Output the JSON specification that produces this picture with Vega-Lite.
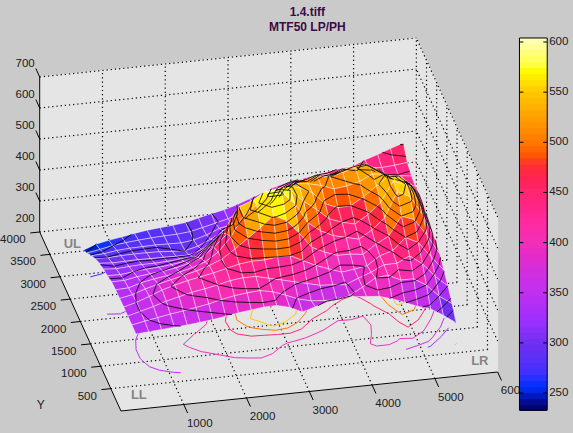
{"$schema":"https://vega.github.io/schema/vega-lite/v6.json","width":573,"height":433,"autosize":{"type":"fit","contains":"padding"},"padding":0,"background":"#cacaca","view":{"stroke":null},
"config":{"font":"Liberation Sans"},
"datasets":{"nodes":[
{"k":2513,"X":5560,"Y":3285,"z":474},{"k":2413,"X":5356,"Y":3285,"z":460},{"k":2313,"X":5152,"Y":3285,"z":445},{"k":2213,"X":4948,"Y":3285,"z":432},{"k":2113,"X":4744,"Y":3285,"z":415},{"k":2013,"X":4540,"Y":3285,"z":412},{"k":1913,"X":4336,"Y":3285,"z":405},{"k":1813,"X":4132,"Y":3285,"z":398},{"k":1713,"X":3928,"Y":3285,"z":392},{"k":1613,"X":3724,"Y":3285,"z":385},{"k":1513,"X":3520,"Y":3285,"z":375},{"k":1413,"X":3316,"Y":3285,"z":360},{"k":1313,"X":3112,"Y":3285,"z":345},{"k":1213,"X":2908,"Y":3285,"z":330},{"k":1113,"X":2704,"Y":3285,"z":318},{"k":1013,"X":2500,"Y":3285,"z":310},{"k":913,"X":2296,"Y":3285,"z":300},{"k":813,"X":2092,"Y":3285,"z":290},{"k":713,"X":1888,"Y":3285,"z":285},{"k":613,"X":1684,"Y":3285,"z":282},{"k":513,"X":1480,"Y":3285,"z":278},{"k":413,"X":1276,"Y":3285,"z":272},{"k":313,"X":1072,"Y":3285,"z":265},{"k":213,"X":868,"Y":3285,"z":258},{"k":113,"X":664,"Y":3285,"z":250},{"k":13,"X":460,"Y":3285,"z":235},
{"k":2512,"X":5560,"Y":3085,"z":440},{"k":2412,"X":5356,"Y":3085,"z":435},{"k":2312,"X":5152,"Y":3085,"z":432},{"k":2212,"X":4948,"Y":3085,"z":435},{"k":2112,"X":4744,"Y":3085,"z":430},{"k":2012,"X":4540,"Y":3085,"z":440},{"k":1912,"X":4336,"Y":3085,"z":425},{"k":1812,"X":4132,"Y":3085,"z":430},{"k":1712,"X":3928,"Y":3085,"z":415},{"k":1612,"X":3724,"Y":3085,"z":415},{"k":1512,"X":3520,"Y":3085,"z":400},{"k":1412,"X":3316,"Y":3085,"z":370},{"k":1312,"X":3112,"Y":3085,"z":355},{"k":1212,"X":2908,"Y":3085,"z":335},{"k":1112,"X":2704,"Y":3085,"z":318},{"k":1012,"X":2500,"Y":3085,"z":308},{"k":912,"X":2296,"Y":3085,"z":298},{"k":812,"X":2092,"Y":3085,"z":289},{"k":712,"X":1888,"Y":3085,"z":285},{"k":612,"X":1684,"Y":3085,"z":284},{"k":512,"X":1480,"Y":3085,"z":282},{"k":412,"X":1276,"Y":3085,"z":279},{"k":312,"X":1072,"Y":3085,"z":275},{"k":212,"X":868,"Y":3085,"z":270},{"k":112,"X":664,"Y":3085,"z":262},{"k":12,"X":460,"Y":3085,"z":255},
{"k":2511,"X":5560,"Y":2885,"z":425},{"k":2411,"X":5356,"Y":2885,"z":430},{"k":2311,"X":5152,"Y":2885,"z":430},{"k":2211,"X":4948,"Y":2885,"z":455},{"k":2111,"X":4744,"Y":2885,"z":465},{"k":2011,"X":4540,"Y":2885,"z":470},{"k":1911,"X":4336,"Y":2885,"z":455},{"k":1811,"X":4132,"Y":2885,"z":460},{"k":1711,"X":3928,"Y":2885,"z":440},{"k":1611,"X":3724,"Y":2885,"z":445},{"k":1511,"X":3520,"Y":2885,"z":425},{"k":1411,"X":3316,"Y":2885,"z":390},{"k":1311,"X":3112,"Y":2885,"z":370},{"k":1211,"X":2908,"Y":2885,"z":350},{"k":1111,"X":2704,"Y":2885,"z":328},{"k":1011,"X":2500,"Y":2885,"z":320},{"k":911,"X":2296,"Y":2885,"z":303},{"k":811,"X":2092,"Y":2885,"z":291},{"k":711,"X":1888,"Y":2885,"z":286},{"k":611,"X":1684,"Y":2885,"z":287},{"k":511,"X":1480,"Y":2885,"z":288},{"k":411,"X":1276,"Y":2885,"z":287},{"k":311,"X":1072,"Y":2885,"z":286},{"k":211,"X":868,"Y":2885,"z":283},{"k":111,"X":664,"Y":2885,"z":277},{"k":11,"X":460,"Y":2885,"z":275},
{"k":2510,"X":5560,"Y":2685,"z":420},{"k":2410,"X":5356,"Y":2685,"z":440},{"k":2310,"X":5152,"Y":2685,"z":455},{"k":2210,"X":4948,"Y":2685,"z":490},{"k":2110,"X":4744,"Y":2685,"z":510},{"k":2010,"X":4540,"Y":2685,"z":505},{"k":1910,"X":4336,"Y":2685,"z":495},{"k":1810,"X":4132,"Y":2685,"z":480},{"k":1710,"X":3928,"Y":2685,"z":470},{"k":1610,"X":3724,"Y":2685,"z":480},{"k":1510,"X":3520,"Y":2685,"z":450},{"k":1410,"X":3316,"Y":2685,"z":420},{"k":1310,"X":3112,"Y":2685,"z":395},{"k":1210,"X":2908,"Y":2685,"z":380},{"k":1110,"X":2704,"Y":2685,"z":350},{"k":1010,"X":2500,"Y":2685,"z":340},{"k":910,"X":2296,"Y":2685,"z":318},{"k":810,"X":2092,"Y":2685,"z":300},{"k":710,"X":1888,"Y":2685,"z":290},{"k":610,"X":1684,"Y":2685,"z":292},{"k":510,"X":1480,"Y":2685,"z":295},{"k":410,"X":1276,"Y":2685,"z":296},{"k":310,"X":1072,"Y":2685,"z":296},{"k":210,"X":868,"Y":2685,"z":295},{"k":110,"X":664,"Y":2685,"z":293},{"k":10,"X":460,"Y":2685,"z":295},
{"k":2509,"X":5560,"Y":2485,"z":425},{"k":2409,"X":5356,"Y":2485,"z":470},{"k":2309,"X":5152,"Y":2485,"z":480},{"k":2209,"X":4948,"Y":2485,"z":505},{"k":2109,"X":4744,"Y":2485,"z":535},{"k":2009,"X":4540,"Y":2485,"z":530},{"k":1909,"X":4336,"Y":2485,"z":520},{"k":1809,"X":4132,"Y":2485,"z":510},{"k":1709,"X":3928,"Y":2485,"z":515},{"k":1609,"X":3724,"Y":2485,"z":510},{"k":1509,"X":3520,"Y":2485,"z":495},{"k":1409,"X":3316,"Y":2485,"z":470},{"k":1309,"X":3112,"Y":2485,"z":440},{"k":1209,"X":2908,"Y":2485,"z":420},{"k":1109,"X":2704,"Y":2485,"z":390},{"k":1009,"X":2500,"Y":2485,"z":375},{"k":909,"X":2296,"Y":2485,"z":345},{"k":809,"X":2092,"Y":2485,"z":318},{"k":709,"X":1888,"Y":2485,"z":305},{"k":609,"X":1684,"Y":2485,"z":305},{"k":509,"X":1480,"Y":2485,"z":306},{"k":409,"X":1276,"Y":2485,"z":306},{"k":309,"X":1072,"Y":2485,"z":307},{"k":209,"X":868,"Y":2485,"z":306},{"k":109,"X":664,"Y":2485,"z":305},{"k":9,"X":460,"Y":2485,"z":308},
{"k":2508,"X":5560,"Y":2285,"z":420},{"k":2408,"X":5356,"Y":2285,"z":490},{"k":2308,"X":5152,"Y":2285,"z":510},{"k":2208,"X":4948,"Y":2285,"z":530},{"k":2108,"X":4744,"Y":2285,"z":535},{"k":2008,"X":4540,"Y":2285,"z":515},{"k":1908,"X":4336,"Y":2285,"z":505},{"k":1808,"X":4132,"Y":2285,"z":500},{"k":1708,"X":3928,"Y":2285,"z":515},{"k":1608,"X":3724,"Y":2285,"z":525},{"k":1508,"X":3520,"Y":2285,"z":530},{"k":1408,"X":3316,"Y":2285,"z":520},{"k":1308,"X":3112,"Y":2285,"z":490},{"k":1208,"X":2908,"Y":2285,"z":470},{"k":1108,"X":2704,"Y":2285,"z":440},{"k":1008,"X":2500,"Y":2285,"z":425},{"k":908,"X":2296,"Y":2285,"z":385},{"k":808,"X":2092,"Y":2285,"z":350},{"k":708,"X":1888,"Y":2285,"z":328},{"k":608,"X":1684,"Y":2285,"z":325},{"k":508,"X":1480,"Y":2285,"z":322},{"k":408,"X":1276,"Y":2285,"z":320},{"k":308,"X":1072,"Y":2285,"z":320},{"k":208,"X":868,"Y":2285,"z":318},{"k":108,"X":664,"Y":2285,"z":315},{"k":8,"X":460,"Y":2285,"z":318},
{"k":2507,"X":5560,"Y":2085,"z":405},{"k":2407,"X":5356,"Y":2085,"z":495},{"k":2307,"X":5152,"Y":2085,"z":545},{"k":2207,"X":4948,"Y":2085,"z":555},{"k":2107,"X":4744,"Y":2085,"z":525},{"k":2007,"X":4540,"Y":2085,"z":495},{"k":1907,"X":4336,"Y":2085,"z":470},{"k":1807,"X":4132,"Y":2085,"z":468},{"k":1707,"X":3928,"Y":2085,"z":485},{"k":1607,"X":3724,"Y":2085,"z":525},{"k":1507,"X":3520,"Y":2085,"z":545},{"k":1407,"X":3316,"Y":2085,"z":555},{"k":1307,"X":3112,"Y":2085,"z":540},{"k":1207,"X":2908,"Y":2085,"z":530},{"k":1107,"X":2704,"Y":2085,"z":510},{"k":1007,"X":2500,"Y":2085,"z":490},{"k":907,"X":2296,"Y":2085,"z":425},{"k":807,"X":2092,"Y":2085,"z":385},{"k":707,"X":1888,"Y":2085,"z":355},{"k":607,"X":1684,"Y":2085,"z":346},{"k":507,"X":1480,"Y":2085,"z":340},{"k":407,"X":1276,"Y":2085,"z":336},{"k":307,"X":1072,"Y":2085,"z":334},{"k":207,"X":868,"Y":2085,"z":330},{"k":107,"X":664,"Y":2085,"z":325},{"k":7,"X":460,"Y":2085,"z":326},
{"k":2506,"X":5560,"Y":1885,"z":398},{"k":2406,"X":5356,"Y":1885,"z":490},{"k":2306,"X":5152,"Y":1885,"z":550},{"k":2206,"X":4948,"Y":1885,"z":565},{"k":2106,"X":4744,"Y":1885,"z":500},{"k":2006,"X":4540,"Y":1885,"z":465},{"k":1906,"X":4336,"Y":1885,"z":440},{"k":1806,"X":4132,"Y":1885,"z":450},{"k":1706,"X":3928,"Y":1885,"z":465},{"k":1606,"X":3724,"Y":1885,"z":500},{"k":1506,"X":3520,"Y":1885,"z":530},{"k":1406,"X":3316,"Y":1885,"z":570},{"k":1306,"X":3112,"Y":1885,"z":580},{"k":1206,"X":2908,"Y":1885,"z":575},{"k":1106,"X":2704,"Y":1885,"z":550},{"k":1006,"X":2500,"Y":1885,"z":535},{"k":906,"X":2296,"Y":1885,"z":450},{"k":806,"X":2092,"Y":1885,"z":412},{"k":706,"X":1888,"Y":1885,"z":382},{"k":606,"X":1684,"Y":1885,"z":368},{"k":506,"X":1480,"Y":1885,"z":358},{"k":406,"X":1276,"Y":1885,"z":352},{"k":306,"X":1072,"Y":1885,"z":348},{"k":206,"X":868,"Y":1885,"z":343},{"k":106,"X":664,"Y":1885,"z":335},{"k":6,"X":460,"Y":1885,"z":335},
{"k":2505,"X":5560,"Y":1685,"z":390},{"k":2405,"X":5356,"Y":1685,"z":475},{"k":2305,"X":5152,"Y":1685,"z":540},{"k":2205,"X":4948,"Y":1685,"z":560},{"k":2105,"X":4744,"Y":1685,"z":480},{"k":2005,"X":4540,"Y":1685,"z":445},{"k":1905,"X":4336,"Y":1685,"z":420},{"k":1805,"X":4132,"Y":1685,"z":430},{"k":1705,"X":3928,"Y":1685,"z":440},{"k":1605,"X":3724,"Y":1685,"z":460},{"k":1505,"X":3520,"Y":1685,"z":490},{"k":1405,"X":3316,"Y":1685,"z":555},{"k":1305,"X":3112,"Y":1685,"z":595},{"k":1205,"X":2908,"Y":1685,"z":595},{"k":1105,"X":2704,"Y":1685,"z":565},{"k":1005,"X":2500,"Y":1685,"z":535},{"k":905,"X":2296,"Y":1685,"z":470},{"k":805,"X":2092,"Y":1685,"z":425},{"k":705,"X":1888,"Y":1685,"z":398},{"k":605,"X":1684,"Y":1685,"z":384},{"k":505,"X":1480,"Y":1685,"z":374},{"k":405,"X":1276,"Y":1685,"z":366},{"k":305,"X":1072,"Y":1685,"z":360},{"k":205,"X":868,"Y":1685,"z":352},{"k":105,"X":664,"Y":1685,"z":340},{"k":5,"X":460,"Y":1685,"z":338},
{"k":2504,"X":5560,"Y":1485,"z":375},{"k":2404,"X":5356,"Y":1485,"z":440},{"k":2304,"X":5152,"Y":1485,"z":495},{"k":2204,"X":4948,"Y":1485,"z":510},{"k":2104,"X":4744,"Y":1485,"z":450},{"k":2004,"X":4540,"Y":1485,"z":428},{"k":1904,"X":4336,"Y":1485,"z":400},{"k":1804,"X":4132,"Y":1485,"z":405},{"k":1704,"X":3928,"Y":1485,"z":405},{"k":1604,"X":3724,"Y":1485,"z":420},{"k":1504,"X":3520,"Y":1485,"z":440},{"k":1404,"X":3316,"Y":1485,"z":490},{"k":1304,"X":3112,"Y":1485,"z":535},{"k":1204,"X":2908,"Y":1485,"z":555},{"k":1104,"X":2704,"Y":1485,"z":520},{"k":1004,"X":2500,"Y":1485,"z":490},{"k":904,"X":2296,"Y":1485,"z":460},{"k":804,"X":2092,"Y":1485,"z":432},{"k":704,"X":1888,"Y":1485,"z":415},{"k":604,"X":1684,"Y":1485,"z":402},{"k":504,"X":1480,"Y":1485,"z":392},{"k":404,"X":1276,"Y":1485,"z":382},{"k":304,"X":1072,"Y":1485,"z":372},{"k":204,"X":868,"Y":1485,"z":361},{"k":104,"X":664,"Y":1485,"z":347},{"k":4,"X":460,"Y":1485,"z":339},
{"k":2503,"X":5560,"Y":1285,"z":352},{"k":2403,"X":5356,"Y":1285,"z":400},{"k":2303,"X":5152,"Y":1285,"z":450},{"k":2203,"X":4948,"Y":1285,"z":470},{"k":2103,"X":4744,"Y":1285,"z":432},{"k":2003,"X":4540,"Y":1285,"z":420},{"k":1903,"X":4336,"Y":1285,"z":392},{"k":1803,"X":4132,"Y":1285,"z":385},{"k":1703,"X":3928,"Y":1285,"z":380},{"k":1603,"X":3724,"Y":1285,"z":395},{"k":1503,"X":3520,"Y":1285,"z":410},{"k":1403,"X":3316,"Y":1285,"z":430},{"k":1303,"X":3112,"Y":1285,"z":450},{"k":1203,"X":2908,"Y":1285,"z":450},{"k":1103,"X":2704,"Y":1285,"z":445},{"k":1003,"X":2500,"Y":1285,"z":445},{"k":903,"X":2296,"Y":1285,"z":440},{"k":803,"X":2092,"Y":1285,"z":430},{"k":703,"X":1888,"Y":1285,"z":420},{"k":603,"X":1684,"Y":1285,"z":412},{"k":503,"X":1480,"Y":1285,"z":404},{"k":403,"X":1276,"Y":1285,"z":394},{"k":303,"X":1072,"Y":1285,"z":382},{"k":203,"X":868,"Y":1285,"z":366},{"k":103,"X":664,"Y":1285,"z":351},{"k":3,"X":460,"Y":1285,"z":340},
{"k":2502,"X":5560,"Y":1085,"z":330},{"k":2402,"X":5356,"Y":1085,"z":365},{"k":2302,"X":5152,"Y":1085,"z":410},{"k":2202,"X":4948,"Y":1085,"z":440},{"k":2102,"X":4744,"Y":1085,"z":420},{"k":2002,"X":4540,"Y":1085,"z":420},{"k":1902,"X":4336,"Y":1085,"z":400},{"k":1802,"X":4132,"Y":1085,"z":385},{"k":1702,"X":3928,"Y":1085,"z":368},{"k":1602,"X":3724,"Y":1085,"z":372},{"k":1502,"X":3520,"Y":1085,"z":375},{"k":1402,"X":3316,"Y":1085,"z":385},{"k":1302,"X":3112,"Y":1085,"z":395},{"k":1202,"X":2908,"Y":1085,"z":405},{"k":1102,"X":2704,"Y":1085,"z":415},{"k":1002,"X":2500,"Y":1085,"z":425},{"k":902,"X":2296,"Y":1085,"z":425},{"k":802,"X":2092,"Y":1085,"z":420},{"k":702,"X":1888,"Y":1085,"z":410},{"k":602,"X":1684,"Y":1085,"z":402},{"k":502,"X":1480,"Y":1085,"z":395},{"k":402,"X":1276,"Y":1085,"z":385},{"k":302,"X":1072,"Y":1085,"z":375},{"k":202,"X":868,"Y":1085,"z":362},{"k":102,"X":664,"Y":1085,"z":351},{"k":2,"X":460,"Y":1085,"z":340},
{"k":2501,"X":5560,"Y":885,"z":302},{"k":2401,"X":5356,"Y":885,"z":330},{"k":2301,"X":5152,"Y":885,"z":370},{"k":2201,"X":4948,"Y":885,"z":395},{"k":2101,"X":4744,"Y":885,"z":395},{"k":2001,"X":4540,"Y":885,"z":415},{"k":1901,"X":4336,"Y":885,"z":410},{"k":1801,"X":4132,"Y":885,"z":385},{"k":1701,"X":3928,"Y":885,"z":362},{"k":1601,"X":3724,"Y":885,"z":352},{"k":1501,"X":3520,"Y":885,"z":355},{"k":1401,"X":3316,"Y":885,"z":358},{"k":1301,"X":3112,"Y":885,"z":368},{"k":1201,"X":2908,"Y":885,"z":385},{"k":1101,"X":2704,"Y":885,"z":400},{"k":1001,"X":2500,"Y":885,"z":408},{"k":901,"X":2296,"Y":885,"z":405},{"k":801,"X":2092,"Y":885,"z":400},{"k":701,"X":1888,"Y":885,"z":392},{"k":601,"X":1684,"Y":885,"z":382},{"k":501,"X":1480,"Y":885,"z":375},{"k":401,"X":1276,"Y":885,"z":368},{"k":301,"X":1072,"Y":885,"z":362},{"k":201,"X":868,"Y":885,"z":355},{"k":101,"X":664,"Y":885,"z":348},{"k":1,"X":460,"Y":885,"z":340},
{"k":2500,"X":5560,"Y":685,"z":269},{"k":2400,"X":5356,"Y":685,"z":298},{"k":2300,"X":5152,"Y":685,"z":323},{"k":2200,"X":4948,"Y":685,"z":335},{"k":2100,"X":4744,"Y":685,"z":352},{"k":2000,"X":4540,"Y":685,"z":368},{"k":1900,"X":4336,"Y":685,"z":380},{"k":1800,"X":4132,"Y":685,"z":384},{"k":1700,"X":3928,"Y":685,"z":388},{"k":1600,"X":3724,"Y":685,"z":388},{"k":1500,"X":3520,"Y":685,"z":380},{"k":1400,"X":3316,"Y":685,"z":368},{"k":1300,"X":3112,"Y":685,"z":355},{"k":1200,"X":2908,"Y":685,"z":375},{"k":1100,"X":2704,"Y":685,"z":385},{"k":1000,"X":2500,"Y":685,"z":384},{"k":900,"X":2296,"Y":685,"z":379},{"k":800,"X":2092,"Y":685,"z":374},{"k":700,"X":1888,"Y":685,"z":367},{"k":600,"X":1684,"Y":685,"z":361},{"k":500,"X":1480,"Y":685,"z":356},{"k":400,"X":1276,"Y":685,"z":352},{"k":300,"X":1072,"Y":685,"z":349},{"k":200,"X":868,"Y":685,"z":346},{"k":100,"X":664,"Y":685,"z":343},{"k":0,"X":460,"Y":685,"z":340}
]},
"encoding":{"x":{"field":"sx","type":"quantitative","scale":{"domain":[0,573],"nice":false,"zero":false},"axis":null},"y":{"field":"sy","type":"quantitative","scale":{"domain":[433,0],"nice":false,"zero":false},"axis":null}},
"layer":[
{"data":{"values":[
{"w":"floor","c":0,"X":0,"Y":0,"Z":200},{"w":"floor","c":1,"X":6000,"Y":0,"Z":200},{"w":"floor","c":2,"X":6000,"Y":4000,"Z":200},{"w":"floor","c":3,"X":0,"Y":4000,"Z":200},{"w":"floor","c":4,"X":0,"Y":0,"Z":200},
{"w":"back","c":0,"X":0,"Y":4000,"Z":200},{"w":"back","c":1,"X":6000,"Y":4000,"Z":200},{"w":"back","c":2,"X":6000,"Y":4000,"Z":700},{"w":"back","c":3,"X":0,"Y":4000,"Z":700},{"w":"back","c":4,"X":0,"Y":4000,"Z":200},
{"w":"right","c":0,"X":6000,"Y":0,"Z":200},{"w":"right","c":1,"X":6000,"Y":4000,"Z":200},{"w":"right","c":2,"X":6000,"Y":4000,"Z":700},{"w":"right","c":3,"X":6000,"Y":0,"Z":700},{"w":"right","c":4,"X":6000,"Y":0,"Z":200}]},
"transform":[{"calculate":"117+0.06333*datum.X-0.0205*datum.Y","as":"sx"},{"calculate":"411-0.0065*datum.X-0.04475*datum.Y-0.31*(datum.Z-200)","as":"sy"}],
"mark":{"type":"line","fill":"#e5e5e5","stroke":"#e5e5e5","strokeWidth":1},"encoding":{"detail":{"field":"w"},"order":{"field":"c"}}},
{"data":{"values":[
{"X":1000,"Y":0,"Z":200,"A":1000,"B":4000,"C":200},{"X":2000,"Y":0,"Z":200,"A":2000,"B":4000,"C":200},{"X":3000,"Y":0,"Z":200,"A":3000,"B":4000,"C":200},{"X":4000,"Y":0,"Z":200,"A":4000,"B":4000,"C":200},{"X":5000,"Y":0,"Z":200,"A":5000,"B":4000,"C":200},
{"X":0,"Y":500,"Z":200,"A":6000,"B":500,"C":200},{"X":0,"Y":1000,"Z":200,"A":6000,"B":1000,"C":200},{"X":0,"Y":1500,"Z":200,"A":6000,"B":1500,"C":200},{"X":0,"Y":2000,"Z":200,"A":6000,"B":2000,"C":200},{"X":0,"Y":2500,"Z":200,"A":6000,"B":2500,"C":200},{"X":0,"Y":3000,"Z":200,"A":6000,"B":3000,"C":200},{"X":0,"Y":3500,"Z":200,"A":6000,"B":3500,"C":200},
{"X":1000,"Y":4000,"Z":200,"A":1000,"B":4000,"C":700},{"X":2000,"Y":4000,"Z":200,"A":2000,"B":4000,"C":700},{"X":3000,"Y":4000,"Z":200,"A":3000,"B":4000,"C":700},{"X":4000,"Y":4000,"Z":200,"A":4000,"B":4000,"C":700},{"X":5000,"Y":4000,"Z":200,"A":5000,"B":4000,"C":700},{"X":6000,"Y":4000,"Z":200,"A":6000,"B":4000,"C":700},
{"X":0,"Y":4000,"Z":200,"A":6000,"B":4000,"C":200},{"X":0,"Y":4000,"Z":300,"A":6000,"B":4000,"C":300},{"X":0,"Y":4000,"Z":400,"A":6000,"B":4000,"C":400},{"X":0,"Y":4000,"Z":500,"A":6000,"B":4000,"C":500},{"X":0,"Y":4000,"Z":600,"A":6000,"B":4000,"C":600},{"X":0,"Y":4000,"Z":700,"A":6000,"B":4000,"C":700},
{"X":6000,"Y":500,"Z":200,"A":6000,"B":500,"C":700},{"X":6000,"Y":1000,"Z":200,"A":6000,"B":1000,"C":700},{"X":6000,"Y":1500,"Z":200,"A":6000,"B":1500,"C":700},{"X":6000,"Y":2000,"Z":200,"A":6000,"B":2000,"C":700},{"X":6000,"Y":2500,"Z":200,"A":6000,"B":2500,"C":700},{"X":6000,"Y":3000,"Z":200,"A":6000,"B":3000,"C":700},{"X":6000,"Y":3500,"Z":200,"A":6000,"B":3500,"C":700},
{"X":6000,"Y":0,"Z":300,"A":6000,"B":4000,"C":300},{"X":6000,"Y":0,"Z":400,"A":6000,"B":4000,"C":400},{"X":6000,"Y":0,"Z":500,"A":6000,"B":4000,"C":500},{"X":6000,"Y":0,"Z":600,"A":6000,"B":4000,"C":600},{"X":6000,"Y":0,"Z":700,"A":6000,"B":4000,"C":700}]},
"transform":[{"calculate":"117+0.06333*datum.X-0.0205*datum.Y","as":"sx"},{"calculate":"411-0.0065*datum.X-0.04475*datum.Y-0.31*(datum.Z-200)","as":"sy"},{"calculate":"117+0.06333*datum.A-0.0205*datum.B","as":"sx2"},{"calculate":"411-0.0065*datum.A-0.04475*datum.B-0.31*(datum.C-200)","as":"sy2"}],
"mark":{"type":"rule","color":"#000000","strokeWidth":1.2,"strokeDash":[1.2,3]},"encoding":{"x2":{"field":"sx2"},"y2":{"field":"sy2"}}},
{"data":{"values":[
{"X":0,"Y":0,"Z":200,"A":6000,"B":0,"C":200},{"X":0,"Y":0,"Z":200,"A":0,"B":4000,"C":200},{"X":0,"Y":4000,"Z":200,"A":0,"B":4000,"C":700},
{"X":1000,"Y":0,"Z":200,"A":1000,"B":-190,"C":200},{"X":2000,"Y":0,"Z":200,"A":2000,"B":-190,"C":200},{"X":3000,"Y":0,"Z":200,"A":3000,"B":-190,"C":200},{"X":4000,"Y":0,"Z":200,"A":4000,"B":-190,"C":200},{"X":5000,"Y":0,"Z":200,"A":5000,"B":-190,"C":200},{"X":6000,"Y":0,"Z":200,"A":6000,"B":-190,"C":200},
{"X":0,"Y":500,"Z":200,"A":-150,"B":500,"C":200},{"X":0,"Y":1000,"Z":200,"A":-150,"B":1000,"C":200},{"X":0,"Y":1500,"Z":200,"A":-150,"B":1500,"C":200},{"X":0,"Y":2000,"Z":200,"A":-150,"B":2000,"C":200},{"X":0,"Y":2500,"Z":200,"A":-150,"B":2500,"C":200},{"X":0,"Y":3000,"Z":200,"A":-150,"B":3000,"C":200},{"X":0,"Y":3500,"Z":200,"A":-150,"B":3500,"C":200},{"X":0,"Y":4000,"Z":200,"A":-150,"B":4000,"C":200},
{"X":0,"Y":4000,"Z":300,"A":0,"B":4190,"C":300},{"X":0,"Y":4000,"Z":400,"A":0,"B":4190,"C":400},{"X":0,"Y":4000,"Z":500,"A":0,"B":4190,"C":500},{"X":0,"Y":4000,"Z":600,"A":0,"B":4190,"C":600},{"X":0,"Y":4000,"Z":700,"A":0,"B":4190,"C":700}]},
"transform":[{"calculate":"117+0.06333*datum.X-0.0205*datum.Y","as":"sx"},{"calculate":"411-0.0065*datum.X-0.04475*datum.Y-0.31*(datum.Z-200)","as":"sy"},{"calculate":"117+0.06333*datum.A-0.0205*datum.B","as":"sx2"},{"calculate":"411-0.0065*datum.A-0.04475*datum.B-0.31*(datum.C-200)","as":"sy2"}],
"mark":{"type":"rule","color":"#000000","strokeWidth":1},"encoding":{"x2":{"field":"sx2"},"y2":{"field":"sy2"}}},
{"data":{"values":[{"t":"1000","X":1000},{"t":"2000","X":2000},{"t":"3000","X":3000},{"t":"4000","X":4000},{"t":"5000","X":5000},{"t":"6000","X":6000}]},
"transform":[{"calculate":"117+0.06333*datum.X","as":"sx"},{"calculate":"411-0.0065*datum.X","as":"sy"}],
"mark":{"type":"text","font":"Liberation Sans","fontSize":11.5,"color":"#202020","align":"center","baseline":"middle","dx":16,"dy":19},"encoding":{"text":{"field":"t"}}},
{"data":{"values":[{"t":"500","Y":500},{"t":"1000","Y":1000},{"t":"1500","Y":1500},{"t":"2000","Y":2000},{"t":"2500","Y":2500},{"t":"3000","Y":3000},{"t":"3500","Y":3500},{"t":"4000","Y":4000}]},
"transform":[{"calculate":"117-0.0205*datum.Y","as":"sx"},{"calculate":"411-0.04475*datum.Y","as":"sy"}],
"mark":{"type":"text","font":"Liberation Sans","fontSize":11.5,"color":"#202020","align":"right","baseline":"middle","dx":-14,"dy":8},"encoding":{"text":{"field":"t"}}},
{"data":{"values":[{"t":"200","Z":200},{"t":"300","Z":300},{"t":"400","Z":400},{"t":"500","Z":500},{"t":"600","Z":600},{"t":"700","Z":700}]},
"transform":[{"calculate":"35","as":"sx"},{"calculate":"232-0.31*(datum.Z-200)","as":"sy"}],
"mark":{"type":"text","font":"Liberation Sans","fontSize":11.5,"color":"#202020","align":"right","baseline":"middle","dx":-5,"dy":-13},"encoding":{"text":{"field":"t"}}},
{"data":{"values":[{"t":"Y","X":-1180,"Y":305}]},
"transform":[{"calculate":"117+0.06333*datum.X-0.0205*datum.Y","as":"sx"},{"calculate":"411-0.0065*datum.X-0.04475*datum.Y","as":"sy"}],
"mark":{"type":"text","font":"Liberation Sans","fontSize":12,"color":"#202020","align":"center","baseline":"middle"},"encoding":{"text":{"field":"t"}}},
{"data":{"values":[{"t":"UL","X":414,"Y":3671},{"t":"LL","X":382,"Y":302},{"t":"LR","X":5806,"Y":277}]},
"transform":[{"calculate":"117+0.06333*datum.X-0.0205*datum.Y","as":"sx"},{"calculate":"411-0.0065*datum.X-0.04475*datum.Y","as":"sy"}],
"mark":{"type":"text","font":"Liberation Sans","fontSize":13,"fontWeight":"bold","color":"#858585","align":"center","baseline":"middle"},"encoding":{"text":{"field":"t"}}},
{"data":{"name":"nodes"},
"transform":[{"filter":"datum.k<2500&&datum.k%100<13"},{"calculate":"datum.k+100","as":"k10"},{"calculate":"datum.k+101","as":"k11"},{"calculate":"datum.k+1","as":"k01"},
{"lookup":"k10","from":{"data":{"name":"nodes"},"key":"k","fields":["X","z"]},"as":["X1","z10"]},
{"lookup":"k01","from":{"data":{"name":"nodes"},"key":"k","fields":["Y","z"]},"as":["Y1","z01"]},
{"lookup":"k11","from":{"data":{"name":"nodes"},"key":"k","fields":["z"]},"as":["z11"]}],
"layer":[
{"transform":[{"calculate":"[270.5,325.5,350.5,400.5,450.5,500.5,550.5]","as":"L"},{"flatten":["L"]},{"calculate":"[0,1,2,3]","as":"e"},{"flatten":["e"]},
{"calculate":"[datum.z,datum.z10,datum.z11,datum.z01][datum.e]","as":"a"},{"calculate":"[datum.z10,datum.z11,datum.z01,datum.z][datum.e]","as":"b"},{"filter":"(datum.a-datum.L)*(datum.b-datum.L)<0"},
{"calculate":"(datum.L-datum.a)/(datum.b-datum.a)","as":"t"},
{"calculate":"[datum.X,datum.X1,datum.X1,datum.X][datum.e]+([datum.X1,datum.X1,datum.X,datum.X][datum.e]-[datum.X,datum.X1,datum.X1,datum.X][datum.e])*datum.t","as":"cX"},
{"calculate":"[datum.Y,datum.Y,datum.Y1,datum.Y1][datum.e]+([datum.Y,datum.Y1,datum.Y1,datum.Y][datum.e]-[datum.Y,datum.Y,datum.Y1,datum.Y1][datum.e])*datum.t","as":"cY"},
{"calculate":"117+0.06333*datum.cX-0.0205*datum.cY","as":"sx"},{"calculate":"411-0.0065*datum.cX-0.04475*datum.cY","as":"sy"},{"calculate":"datum.k*1000+datum.L","as":"g"}],
"mark":{"type":"line","strokeWidth":1},
"encoding":{"detail":{"field":"g"},"order":{"field":"e"},"stroke":{"field":"L","type":"quantitative","legend":null,"scale":{"domain":[233,250,255,262,270,300,320,350,370,400,420,450,478,485,500,525,550,572,590,604],"range":["#000060","#0020d0","#0030ff","#1030ff","#4030ff","#7030f0","#9830ff","#c030f0","#d030e0","#f030b8","#ff2ca0","#ff2870","#ff3030","#ff5000","#ff7800","#ffa000","#ffc800","#ffff00","#ffff80","#ffffc0"]}}}},
{"transform":[{"calculate":"(datum.z+datum.z10+datum.z11+datum.z01)/4","as":"zm"},{"calculate":"[0,1,2,3,4]","as":"c"},{"flatten":["c"]},
{"calculate":"[datum.X,datum.X1,datum.X1,datum.X,datum.X][datum.c]","as":"cX"},{"calculate":"[datum.Y,datum.Y,datum.Y1,datum.Y1,datum.Y][datum.c]","as":"cY"},{"calculate":"[datum.z,datum.z10,datum.z11,datum.z01,datum.z][datum.c]","as":"cZ"},
{"calculate":"117+0.06333*datum.cX-0.0205*datum.cY","as":"sx"},{"calculate":"411-0.0065*datum.cX-0.04475*datum.cY-0.31*(datum.cZ-200)","as":"sy"}],
"mark":{"type":"line","stroke":"#ffffff","strokeWidth":0.8,"strokeOpacity":0.55},
"encoding":{"detail":{"field":"k"},"order":{"field":"c"},"fill":{"field":"zm","type":"quantitative","legend":null,"scale":{"domain":[233,250,255,262,270,300,320,350,370,400,420,450,478,485,500,525,550,572,590,604],"range":["#000060","#0020d0","#0030ff","#1030ff","#4030ff","#7030f0","#9830ff","#c030f0","#d030e0","#f030b8","#ff2ca0","#ff2870","#ff3030","#ff5000","#ff7800","#ffa000","#ffc800","#ffff00","#ffff80","#ffffc0"]}}}},
{"transform":[
{"calculate":"(0.06333*(datum.X1-datum.X)-0.0205*(datum.Y1-datum.Y))*(-0.0065*(datum.X-datum.X1)-0.04475*(datum.Y1-datum.Y)-0.31*(datum.z01-datum.z10))-(-0.0065*(datum.X1-datum.X)-0.04475*(datum.Y1-datum.Y)-0.31*(datum.z11-datum.z))*(0.06333*(datum.X-datum.X1)-0.0205*(datum.Y1-datum.Y))","as":"cross"},
{"filter":"datum.cross<0"},
{"calculate":"[250.5,270.5,290.5,310.5,330.5,350.5,370.5,390.5,410.5,430.5,450.5,470.5,490.5,510.5,530.5,550.5,570.5,590.5]","as":"L"},{"flatten":["L"]},{"calculate":"[0,1,2,3]","as":"e"},{"flatten":["e"]},
{"calculate":"[datum.z,datum.z10,datum.z11,datum.z01][datum.e]","as":"a"},{"calculate":"[datum.z10,datum.z11,datum.z01,datum.z][datum.e]","as":"b"},{"filter":"(datum.a-datum.L)*(datum.b-datum.L)<0"},
{"calculate":"(datum.L-datum.a)/(datum.b-datum.a)","as":"t"},
{"calculate":"[datum.X,datum.X1,datum.X1,datum.X][datum.e]+([datum.X1,datum.X1,datum.X,datum.X][datum.e]-[datum.X,datum.X1,datum.X1,datum.X][datum.e])*datum.t","as":"cX"},
{"calculate":"[datum.Y,datum.Y,datum.Y1,datum.Y1][datum.e]+([datum.Y,datum.Y1,datum.Y1,datum.Y][datum.e]-[datum.Y,datum.Y,datum.Y1,datum.Y1][datum.e])*datum.t","as":"cY"},
{"calculate":"117+0.06333*datum.cX-0.0205*datum.cY","as":"sx"},{"calculate":"411-0.0065*datum.cX-0.04475*datum.cY-0.31*(datum.L-200)","as":"sy"},{"calculate":"datum.k*1000+datum.L","as":"g"}],
"mark":{"type":"line","stroke":"#000000","strokeWidth":0.8},
"encoding":{"detail":{"field":"g"},"order":{"field":"e"}}}
]},
{"data":{"values":[{"a":604,"b":598},{"a":598,"b":592},{"a":592,"b":586},{"a":586,"b":580},{"a":580,"b":574},{"a":574,"b":568},{"a":568,"b":562},{"a":562,"b":556},{"a":556,"b":550},{"a":550,"b":544},{"a":544,"b":538},{"a":538,"b":532},{"a":532,"b":526},{"a":526,"b":520},{"a":520,"b":514},{"a":514,"b":508},{"a":508,"b":502},{"a":502,"b":496},{"a":496,"b":490},{"a":490,"b":484},{"a":484,"b":478},{"a":478,"b":472},{"a":472,"b":466},{"a":466,"b":460},{"a":460,"b":454},{"a":454,"b":448},{"a":448,"b":442},{"a":442,"b":436},{"a":436,"b":430},{"a":430,"b":424},{"a":424,"b":418},{"a":418,"b":412},{"a":412,"b":406},{"a":406,"b":400},{"a":400,"b":394},{"a":394,"b":388},{"a":388,"b":382},{"a":382,"b":376},{"a":376,"b":370},{"a":370,"b":364},{"a":364,"b":358},{"a":358,"b":352},{"a":352,"b":346},{"a":346,"b":340},{"a":340,"b":334},{"a":334,"b":328},{"a":328,"b":322},{"a":322,"b":316},{"a":316,"b":310},{"a":310,"b":304},{"a":304,"b":298},{"a":298,"b":292},{"a":292,"b":286},{"a":286,"b":280},{"a":280,"b":274},{"a":274,"b":268},{"a":268,"b":262},{"a":262,"b":256},{"a":256,"b":250},{"a":250,"b":244},{"a":244,"b":238},{"a":238,"b":233}]},
"transform":[{"calculate":"519","as":"sx"},{"calculate":"42+(600-datum.a)*1.003","as":"sy"},{"calculate":"42+(600-datum.b)*1.003+0.8","as":"sy2"},{"calculate":"(datum.a+datum.b)/2","as":"v"}],
"mark":{"type":"rect"},
"encoding":{"x2":{"datum":547},"y2":{"field":"sy2"},"fill":{"field":"v","type":"quantitative","legend":null,"scale":{"domain":[233,250,255,262,270,300,320,350,370,400,420,450,478,485,500,525,550,572,590,604],"range":["#000060","#0020d0","#0030ff","#1030ff","#4030ff","#7030f0","#9830ff","#c030f0","#d030e0","#f030b8","#ff2ca0","#ff2870","#ff3030","#ff5000","#ff7800","#ffa000","#ffc800","#ffff00","#ffff80","#ffffc0"]}}}},
{"data":{"values":[{"a":604,"b":233}]},
"transform":[{"calculate":"519","as":"sx"},{"calculate":"42+(600-datum.a)*1.003","as":"sy"},{"calculate":"42+(600-datum.b)*1.003","as":"sy2"}],
"mark":{"type":"rect","fillOpacity":0,"stroke":"#000000","strokeWidth":1},"encoding":{"x2":{"datum":547},"y2":{"field":"sy2"}}},
{"data":{"values":[{"v":250},{"v":300},{"v":350},{"v":400},{"v":450},{"v":500},{"v":550},{"v":600}]},
"transform":[{"calculate":"519","as":"sx"},{"calculate":"42+(600-datum.v)*1.003","as":"sy"}],
"mark":{"type":"rule","color":"#000000","strokeWidth":1},"encoding":{"x2":{"datum":523},"y2":{"field":"sy"}}},
{"data":{"values":[{"v":250},{"v":300},{"v":350},{"v":400},{"v":450},{"v":500},{"v":550},{"v":600}]},
"transform":[{"calculate":"543","as":"sx"},{"calculate":"42+(600-datum.v)*1.003","as":"sy"}],
"mark":{"type":"rule","color":"#000000","strokeWidth":1},"encoding":{"x2":{"datum":547},"y2":{"field":"sy"}}},
{"data":{"values":[{"v":250},{"v":300},{"v":350},{"v":400},{"v":450},{"v":500},{"v":550},{"v":600}]},
"transform":[{"calculate":"549","as":"sx"},{"calculate":"42+(600-datum.v)*1.003","as":"sy"}],
"mark":{"type":"text","font":"Liberation Sans","fontSize":11.5,"color":"#202020","align":"left","baseline":"middle"},"encoding":{"text":{"field":"v","type":"nominal"}}},
{"data":{"values":[{"t":"1.4.tiff","n":0},{"t":"MTF50 LP/PH","n":1}]},
"transform":[{"calculate":"305","as":"sx"},{"calculate":"11.5+15.5*datum.n","as":"sy"}],
"mark":{"type":"text","font":"Liberation Sans","fontSize":12,"fontWeight":"bold","color":"#3c0a46","align":"center","baseline":"middle"},"encoding":{"text":{"field":"t"}}}
]}
